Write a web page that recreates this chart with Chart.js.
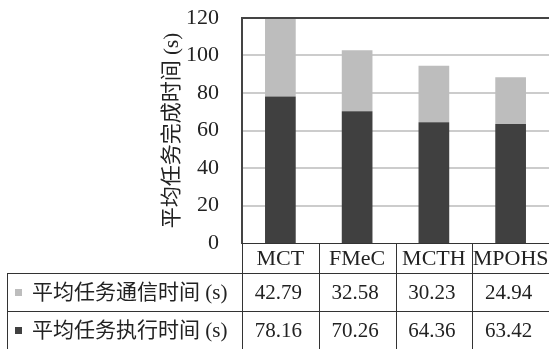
<!DOCTYPE html>
<html>
<head>
<meta charset="utf-8">
<script src="https://cdn.jsdelivr.net/npm/chart.js@4/dist/chart.umd.min.js"></script>
<style>
  html, body { margin: 0; padding: 0; background: #fff; }
  #wrap { width: 549px; height: 349px; }
</style>
</head>
<body>
<div id="wrap"><canvas id="chart" width="549" height="349"></canvas></div>
<script>
// categories and series
const categories = ["MCT", "FMeC", "MCTH", "MPOHS"];
const commTime = [42.79, 32.58, 30.23, 24.94];
const execTime = [78.16, 70.26, 64.36, 63.42];
const rowLabels = ["平均任务通信时间 (s)", "平均任务执行时间 (s)"];
const yTitle = "平均任务完成时间 (s)";
// y axis range
const yMin = 0;
const yMax = 120;
const yStep = 20;

const darkColor = "#404040";
const lightColor = "#bdbdbd";
const lineColor = "#333333";
const gridColor = "#cccccc";
const serif = '"Liberation Serif", "Noto Sans CJK SC", serif';

//draws the data table under the plot, plus the light grid and the top frame
const tablePlugin = {
  id: "dataTable",
  afterDraw(chart) {
    const ctx = chart.ctx;
    const x = chart.scales.x;
    const y = chart.scales.y;
    const area = chart.chartArea;
    const colW = x.width / categories.length;
    const top = area.bottom;
    const headBottom = top + 30;
    const row1Bottom = headBottom + 38;
    const row2Bottom = row1Bottom + 38;
    const tableLeft = 7;

    ctx.save();
    // light grid, painted behind the bars
    ctx.globalCompositeOperation = "destination-over";
    ctx.strokeStyle = gridColor;
    ctx.lineWidth = 2;
    ctx.beginPath();
    for (let v = yMin + yStep; v < yMax; v += yStep) {
      const py = Math.round(y.getPixelForValue(v));
      ctx.moveTo(area.left, py);
      ctx.lineTo(area.right, py);
    }
    ctx.stroke();
    ctx.globalCompositeOperation = "source-over";

    ctx.strokeStyle = lineColor;
    ctx.lineWidth = 1;
    ctx.beginPath();
    // horizontal lines
    ctx.moveTo(area.left, top + 0.5);
    ctx.lineTo(area.right, top + 0.5);
    ctx.moveTo(tableLeft, headBottom + 0.5);
    ctx.lineTo(area.right, headBottom + 0.5);
    ctx.moveTo(tableLeft, row1Bottom + 0.5);
    ctx.lineTo(area.right, row1Bottom + 0.5);
    ctx.moveTo(tableLeft, row2Bottom + 0.5);
    ctx.lineTo(area.right, row2Bottom + 0.5);
    // vertical lines
    ctx.moveTo(tableLeft + 0.5, headBottom);
    ctx.lineTo(tableLeft + 0.5, row2Bottom);
    for (let i = 0; i <= categories.length; i++) {
      const cx = Math.round(x.getPixelForValue(i) - colW / 2) + 0.5;
      ctx.moveTo(cx, top);
      ctx.lineTo(cx, row2Bottom);
    }
    ctx.stroke();

    // top frame line
    ctx.strokeStyle = "#444";
    ctx.lineWidth = 2;
    ctx.beginPath();
    ctx.moveTo(area.left, Math.round(area.top));
    ctx.lineTo(area.right, Math.round(area.top));
    ctx.stroke();

    ctx.fillStyle = "#222";
    ctx.textAlign = "center";
    ctx.textBaseline = "middle";
    const rowData = [commTime, execTime];
    const rowMid = [(headBottom + row1Bottom) / 2, (row1Bottom + row2Bottom) / 2];
    categories.forEach((c, i) => {
      const cx = x.getPixelForValue(i);
      ctx.font = "22px " + serif;
      ctx.fillText(c, cx, (top + headBottom) / 2 + 1);
      ctx.font = "21px " + serif;
      rowData.forEach((d, r) => {
        ctx.fillText(d[i].toFixed(2), cx - 2, rowMid[r] + 1);
      });
    });

    // row labels with legend squares
    const sq = [lightColor, darkColor];
    ctx.textAlign = "left";
    ctx.font = "21px " + serif;
    rowLabels.forEach((label, r) => {
      ctx.fillStyle = sq[r];
      ctx.fillRect(15, Math.round(rowMid[r]) - 3, 7, 7);
      ctx.fillStyle = "#222";
      ctx.fillText(label, 32, rowMid[r] + 1);
    });
    ctx.restore();
  },
};

new Chart(document.getElementById("chart"), {
  type: "bar",
  plugins: [tablePlugin],
  data: {
    labels: categories,
    datasets: [
      {
        label: rowLabels[1],
        data: execTime,
        backgroundColor: darkColor,
        categoryPercentage: 0.4,
        barPercentage: 1,
      },
      {
        label: rowLabels[0],
        data: commTime,
        backgroundColor: lightColor,
        categoryPercentage: 0.4,
        barPercentage: 1,
      },
    ],
  },
  options: {
    responsive: false,
    animation: false,
    layout: {
      padding: { left: 150, top: 18, right: -2, bottom: 106 },
    },
    plugins: {
      legend: { display: false },
      tooltip: { enabled: false },
    },
    scales: {
      x: {
        stacked: true,
        display: false,
      },
      y: {
        stacked: true,
        min: yMin,
        max: yMax,
        afterFit: (scale) => {
          scale.width = 92;
          scale.paddingTop = 0;
          scale.paddingBottom = 0;
        },
        ticks: {
          stepSize: yStep,
          padding: 15,
          color: "#222",
          font: { family: serif, size: 22 },
        },
        grid: { display: false },
        border: { color: "#444", width: 2 },
        title: {
          display: true,
          text: yTitle,
          color: "#222",
          padding: { top: 10, bottom: 0 },
          font: { family: serif, size: 21 },
        },
      },
    },
  },
});
</script>
</body>
</html>
